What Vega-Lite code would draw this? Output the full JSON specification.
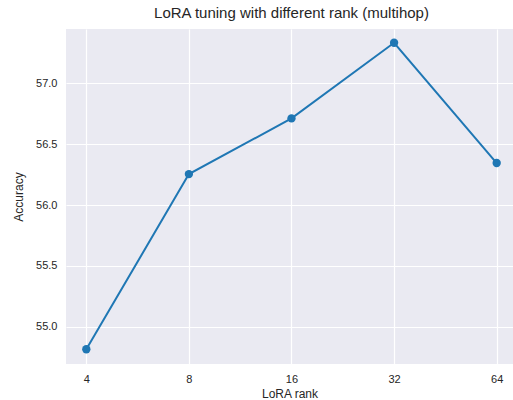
{
  "$schema": "https://vega.github.io/schema/vega-lite/v6.json",
  "autosize": {"type": "none"},
  "padding": {"left": 66, "top": 29, "right": 0, "bottom": 36},
  "width": 447,
  "height": 335,
  "background": "white",
  "config": {
    "font": "Liberation Sans",
    "view": {"fill": "#EAEAF2", "stroke": null},
    "axis": {
      "domain": false,
      "ticks": false,
      "tickSize": 0,
      "gridColor": "white",
      "gridWidth": 1.2,
      "gridOpacity": 1,
      "labelColor": "#262626",
      "titleColor": "#262626",
      "labelFontSize": 11,
      "titleFontSize": 12,
      "titleFontWeight": "normal",
      "labelFont": "Liberation Sans",
      "titleFont": "Liberation Sans"
    },
    "title": {"font": "Liberation Sans", "fontSize": 15, "fontWeight": "normal", "color": "#262626"}
  },
  "title": {"text": "LoRA tuning with different rank (multihop)", "anchor": "middle", "offset": 8, "dx": 2},
  "data": {
    "values": [
      {"rank": 4, "accuracy": 54.814},
      {"rank": 8, "accuracy": 56.254},
      {"rank": 16, "accuracy": 56.712},
      {"rank": 32, "accuracy": 57.334},
      {"rank": 64, "accuracy": 56.345}
    ]
  },
  "layer": [
    {
      "mark": {"type": "line", "color": "#1f77b4", "strokeWidth": 2, "clip": true},
      "encoding": {
        "x": {"field": "rank", "type": "quantitative"},
        "y": {"field": "accuracy", "type": "quantitative"}
      }
    },
    {
      "mark": {"type": "point", "filled": true, "color": "#1f77b4", "size": 70, "opacity": 1, "clip": true},
      "encoding": {
        "x": {"field": "rank", "type": "quantitative"},
        "y": {"field": "accuracy", "type": "quantitative"}
      }
    }
  ],
  "encoding": {
    "x": {
      "field": "rank",
      "type": "quantitative",
      "title": "LoRA rank",
      "scale": {"type": "log", "base": 2, "domain": [3.487, 71.46], "nice": false},
      "axis": {"values": [4, 8, 16, 32, 64], "format": "d", "labelPadding": 9, "titlePadding": 4, "labelFlush": false}
    },
    "y": {
      "field": "accuracy",
      "type": "quantitative",
      "title": "Accuracy",
      "scale": {"domain": [54.693, 57.447], "nice": false, "zero": false},
      "axis": {"values": [55.0, 55.5, 56.0, 56.5, 57.0], "format": ".1f", "labelPadding": 9, "titlePadding": 10}
    }
  }
}
